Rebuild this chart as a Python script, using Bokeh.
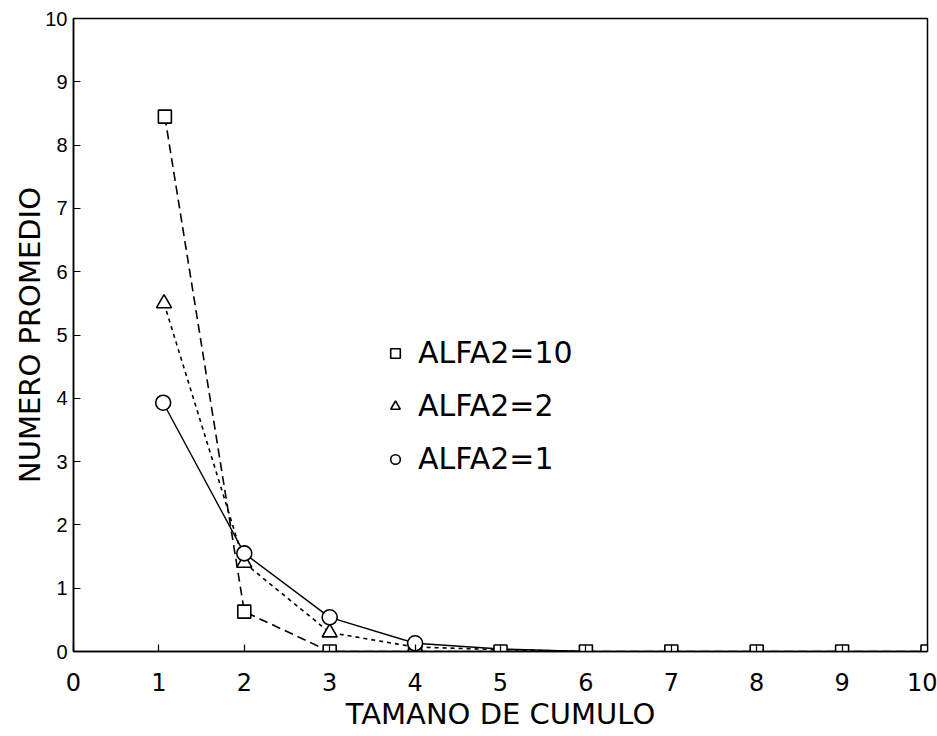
from bokeh.plotting import figure
from bokeh.models import Range1d, Legend, LegendItem, FixedTicker
from bokeh.embed import file_html
from bokeh.resources import INLINE

# ---- data ----
x_sq = [1.07, 2, 3, 4, 5, 6, 7, 8, 9, 10]
y_sq = [8.45, 0.63, 0.0, 0.0, 0.0, 0.0, 0.0, 0.0, 0.0, 0.0]
x_tri = [1.06, 2, 3, 4, 5, 6]
y_tri = [5.5, 1.4, 0.3, 0.07, 0.03, 0.0]
x_cir = [1.05, 2, 3, 4, 5, 6]
y_cir = [3.93, 1.55, 0.54, 0.13, 0.04, 0.0]
labels = ["ALFA2=10", "ALFA2=2", "ALFA2=1"]
x_ticks = list(range(0, 11))
y_ticks = list(range(0, 11))

THIN = "DejaVu Sans"
TICK = "Liberation Sans"

p = figure(width=937, height=736, output_backend="svg", toolbar_location=None,
           x_range=Range1d(0, 10), y_range=Range1d(0, 10),
           min_border_left=73, min_border_right=10, min_border_top=18, min_border_bottom=85)
p.grid.visible = False
p.outline_line_color = "black"
p.outline_line_width = 1.5

for ax in (p.xaxis[0], p.yaxis[0]):
    ax.major_tick_in = 7
    ax.major_tick_out = 0
    ax.minor_tick_in = 0
    ax.minor_tick_out = 0
    ax.axis_line_width = 1.5
    ax.major_tick_line_width = 1.2
    ax.axis_label_text_font_style = "normal"
    ax.axis_label_text_color = "black"
    ax.major_label_text_color = "black"

p.xaxis.ticker = FixedTicker(ticks=x_ticks)
p.yaxis.ticker = FixedTicker(ticks=y_ticks)

p.xaxis.axis_label = "TAMANO DE CUMULO"
p.xaxis.axis_label_text_font = THIN
p.xaxis.axis_label_text_font_size = "29px"
p.xaxis.axis_label_standoff = 3
p.xaxis.major_label_text_font = THIN
p.xaxis.major_label_text_font_size = "24px"
p.xaxis.major_label_standoff = 21

p.yaxis.axis_label = "NUMERO PROMEDIO"
p.yaxis.axis_label_text_font = THIN
p.yaxis.axis_label_text_font_size = "29px"
p.yaxis.axis_label_standoff = -5
p.yaxis.major_label_text_font = TICK
p.yaxis.major_label_text_font_size = "20px"
p.yaxis.major_label_standoff = 6

# lines
p.line(x_sq, y_sq, line_color="black", line_width=1.6, line_dash="9 5")
p.line(x_tri, y_tri, line_color="black", line_width=1.6, line_dash="4 4")
p.line(x_cir, y_cir, line_color="black", line_width=1.4)

# markers
r_sq = p.scatter(x_sq, y_sq, marker="square", size=13, fill_color="white",
                 line_color="black", line_width=1.6)
r_tri = p.scatter(x_tri[:4], y_tri[:4], marker="triangle", size=15, fill_color="white",
                  line_color="black", line_width=1.6)
r_cir = p.scatter(x_cir[:4], y_cir[:4], marker="circle", size=15, fill_color="white",
                  line_color="black", line_width=1.6)

legend = Legend(items=[LegendItem(label=labels[0], renderers=[r_sq]),
                       LegendItem(label=labels[1], renderers=[r_tri]),
                       LegendItem(label=labels[2], renderers=[r_cir])],
                location=(310, 175), glyph_width=24, glyph_height=24,
                label_text_font=THIN, label_text_font_size="30px",
                label_text_color="black",
                label_standoff=11, spacing=18, padding=0, margin=0,
                border_line_alpha=0, background_fill_alpha=0)
p.add_layout(legend, "center")

open("out.html", "w").write(file_html(p, INLINE))
